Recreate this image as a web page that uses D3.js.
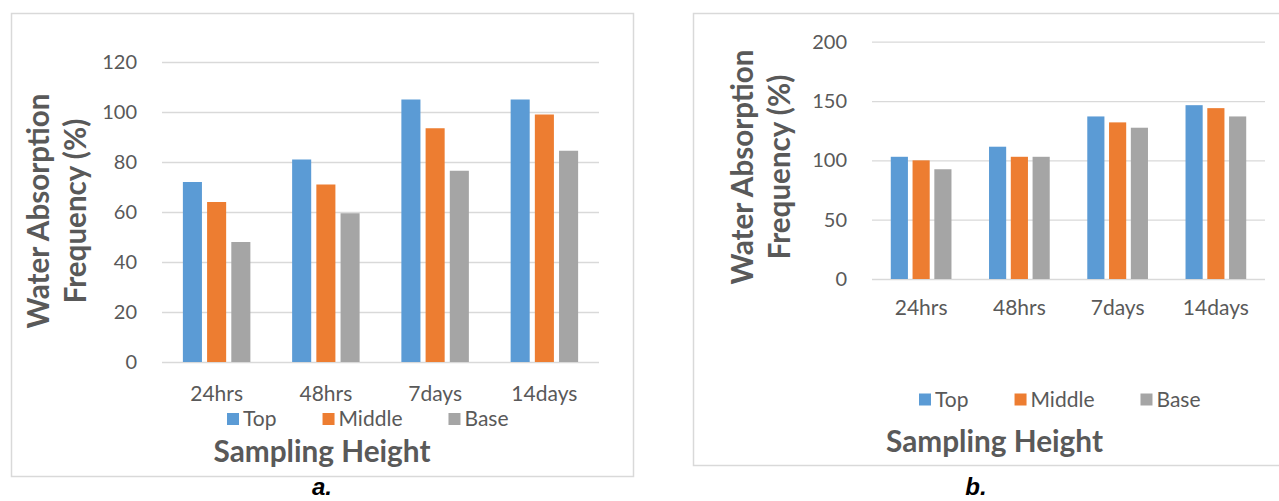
<!DOCTYPE html>
<html><head><meta charset="utf-8">
<script src="https://cdn.jsdelivr.net/npm/d3@7"></script>
<style>
html,body{margin:0;padding:0;background:#fff;}
svg{display:block;}
</style></head><body>
<svg id="chart" width="1279" height="501"></svg>
<script>
const categories = ["24hrs","48hrs","7days","14days"];
const seriesNames = ["Top","Middle","Base"];
const colors = ["#5B9BD5","#ED7D31","#A5A5A5"];
// panel a
const topA = [72,81,105,105];
const middleA = [64,71,93.5,99];
const baseA = [48,59.5,76.5,84.5];
const ticksA = [0,20,40,60,80,100,120];
// panel b
const topB = [103,111.5,137,146.5];
const middleB = [100,103,132,144];
const baseB = [92.5,103,127.5,137];
const ticksB = [0,50,100,150,200];
const yTitle = ["Water Absorption","Frequency (%)"];
const xTitle = "Sampling Height";

const svg = d3.select("#chart");
const FONT = "Lato, 'Open Sans', sans-serif";
const TXT = "#595959";
const GRID = "#D9D9D9";

function fit(sel, target){
  const size = 20;
  sel.style("font-size", size+"px");
  const w = sel.node().getComputedTextLength();
  const s = size*target/w;
  sel.style("font-size", s+"px");
  return s;
}

function panel(cfg){
  const g = svg.append("g");
  g.append("rect").attr("x",cfg.box[0]+0.5).attr("y",cfg.box[1]+0.5)
    .attr("width",cfg.box[2]).attr("height",cfg.box[3])
    .attr("fill","#fff").attr("stroke",GRID).attr("stroke-width",1.5);

  const x0 = d3.scaleBand().domain(categories).range([cfg.plot.left, cfg.plot.right]);
  const y = d3.scaleLinear().domain([0, cfg.max]).range([cfg.plot.bottom, cfg.plot.top]);
  const band = x0.bandwidth();
  const w = band/(3 + 2*0.27 + 2.19);
  const x1 = d3.scaleBand().domain(seriesNames)
    .range([1.095*w, band-1.095*w]).paddingInner(0.27/1.27);

  const yAxis = d3.axisLeft(y).tickValues(cfg.ticks)
    .tickSize(-(cfg.plot.right-cfg.plot.left)).tickPadding(25);
  const ya = g.append("g").attr("transform",`translate(${cfg.plot.left},0)`).call(yAxis);
  ya.select(".domain").remove();
  ya.selectAll(".tick line").attr("stroke",GRID).attr("stroke-width",1.3);
  ya.selectAll(".tick text").attr("fill",TXT)
    .style("font-family",FONT).style("font-size","20px");

  const groups = g.append("g").selectAll("g").data(categories).join("g")
    .attr("transform", d => `translate(${x0(d)},0)`);
  groups.selectAll("rect").data((c,ci) => seriesNames.map((s,si) => ({s, si, v: cfg.values[si][ci]})))
    .join("rect")
    .attr("x", d => x1(d.s)).attr("width", x1.bandwidth())
    .attr("y", d => y(d.v)).attr("height", d => y(0)-y(d.v))
    .attr("fill", d => colors[d.si]);

  const xAxis = d3.axisBottom(x0).tickSize(0);
  const xa = g.append("g").attr("transform",`translate(0,${cfg.plot.bottom})`).call(xAxis);
  xa.select(".domain").remove();
  xa.selectAll(".tick text").attr("fill",TXT).attr("dy",null)
    .attr("y", cfg.xLabelBaseline - cfg.plot.bottom)
    .style("font-family",FONT).style("font-size","21px");

  // legend
  let lx = cfg.legend.x;
  seriesNames.forEach((s,i) => {
    g.append("rect").attr("x",lx).attr("y",cfg.legend.y-6).attr("width",12).attr("height",12).attr("fill",colors[i]);
    const t = g.append("text").attr("x",lx+16).attr("y",cfg.legend.y+7)
      .attr("fill",TXT).style("font-family",FONT).style("font-size","21px").text(s);
    lx += 16 + t.node().getComputedTextLength() + 46;
  });

  // x title
  const xt = g.append("text").attr("x",cfg.xTitle.x).attr("y",cfg.xTitle.y)
    .attr("text-anchor","middle").attr("fill",TXT)
    .style("font-family",FONT).style("font-weight","bold").text(xTitle);
  fit(xt, 217);

  // y title
  const yt1 = g.append("text").attr("transform",`translate(${cfg.yTitle.x1},${cfg.yTitle.cy}) rotate(-90)`)
    .attr("text-anchor","middle").attr("fill",TXT)
    .style("font-family",FONT).style("font-weight","bold").text(yTitle[0]);
  const fs = fit(yt1, 235);
  g.append("text").attr("transform",`translate(${cfg.yTitle.x2},${cfg.yTitle.cy}) rotate(-90)`)
    .attr("text-anchor","middle").attr("fill",TXT)
    .style("font-family",FONT).style("font-weight","bold").style("font-size",fs+"px").text(yTitle[1]);

  // caption
  svg.append("text").attr("x",cfg.caption.x).attr("y",495).attr("text-anchor","middle")
    .attr("fill","#000").style("font-family","'Liberation Sans', Arial, sans-serif")
    .style("font-weight","bold").style("font-style","italic").style("font-size","24px")
    .text(cfg.caption.text);
}

panel({
  box:[11,13,622,463],
  plot:{left:162,right:599,top:62,bottom:362},
  max:120, ticks:ticksA, values:[topA,middleA,baseA],
  xLabelBaseline:401, legend:{x:227,y:419},
  xTitle:{x:322,y:462}, yTitle:{x1:49,x2:86,cy:211},
  caption:{x:322,text:"a."}
});
panel({
  box:[693,13,640,452],
  plot:{left:872,right:1265,top:41.7,bottom:279},
  max:200, ticks:ticksB, values:[topB,middleB,baseB],
  xLabelBaseline:315, legend:{x:919,y:399.5},
  xTitle:{x:994.5,y:452}, yTitle:{x1:753,x2:790,cy:167},
  caption:{x:976,text:"b."}
});
</script>
</body></html>
